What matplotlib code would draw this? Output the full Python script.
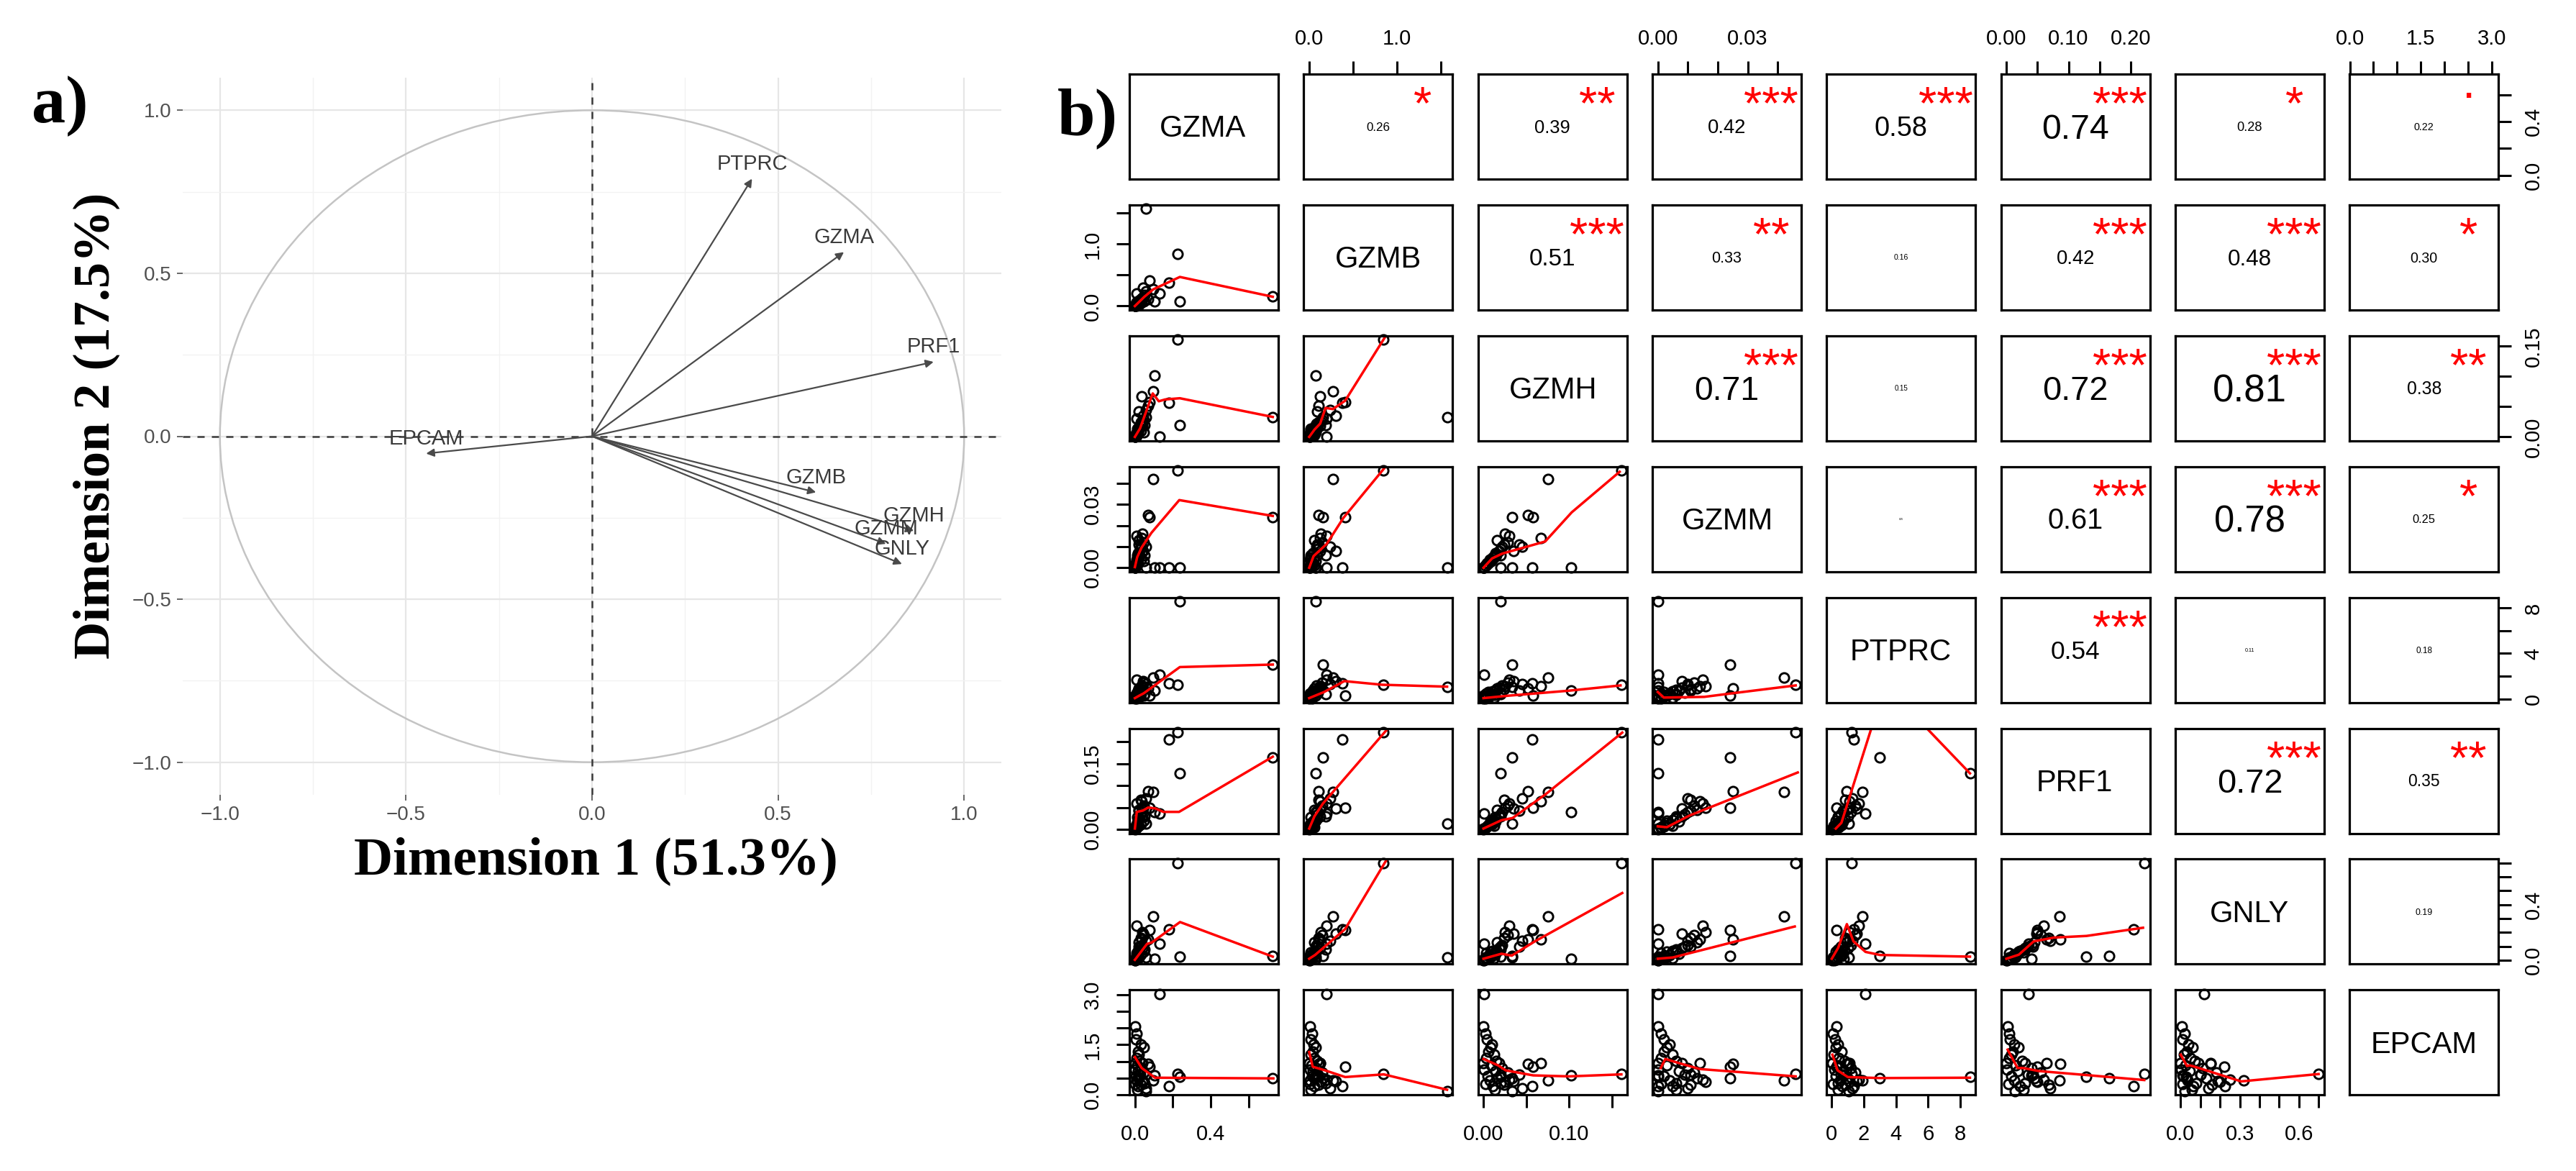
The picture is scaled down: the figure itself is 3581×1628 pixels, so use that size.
import numpy as np
import matplotlib
matplotlib.use("Agg")
import matplotlib.pyplot as plt
import matplotlib.patches as mpatches
import matplotlib.transforms as mtransforms
from matplotlib.textpath import TextPath
from matplotlib.font_manager import FontProperties

plt.rcParams['font.family'] = ['Liberation Sans', 'DejaVu Sans']

W, H = 3581, 1628

# %% data, panel a (variable coordinates on the first two dimensions)
pca_genes = ["PTPRC", "GZMA", "PRF1", "EPCAM", "GZMB", "GZMH", "GZMM", "GNLY"]
pca_dim1 = [0.43, 0.677, 0.918, -0.446, 0.602, 0.865, 0.79, 0.833]
pca_dim2 = [0.79, 0.565, 0.228, -0.053, -0.172, -0.29, -0.33, -0.392]
pca_ticks = [-1.0, -0.5, 0.0, 0.5, 1.0]

# %% data, panel b (expression per sample)
genes = ["GZMA", "GZMB", "GZMH", "GZMM", "PTPRC", "PRF1", "GNLY", "EPCAM"]
gzma = [0.727, 0.060, 0.225, 0.180, 0.237, 0.130, 0.070, 0.078, 0.102, 0.096, 0.034, 0.020, 0.050,
        0.000, 0.010, 0.005, 0.030, 0.048, 0.015, 0.020, 0.008, 0.025, 0.040, 0.012, 0.035, 0.003, 0.018,
        0.045, 0.028, 0.006, 0.022, 0.010, 0.010, 0.038, 0.002, 0.032, 0.016, 0.060, 0.012, 0.042, 0.000]
gzmb = [0.16, 1.57, 0.84, 0.38, 0.07, 0.20, 0.11, 0.41, 0.07, 0.27, 0.12, 0.09, 0.185,
        0.010, 0.030, 0.020, 0.050, 0.070, 0.040, 0.015, 0.060, 0.090, 0.120, 0.025, 0.080, 0.005, 0.045,
        0.150, 0.100, 0.035, 0.060, 0.200, 0.010, 0.130, 0.008, 0.110, 0.055, 0.240, 0.020, 0.300, 0.000]
gzmh = [0.033, 0.033, 0.161, 0.057, 0.020, 0.001, 0.052, 0.058, 0.102, 0.075, 0.067, 0.042, 0.020,
        0.000, 0.002, 0.004, 0.010, 0.008, 0.006, 0.012, 0.003, 0.015, 0.018, 0.009, 0.022, 0.001, 0.014,
        0.028, 0.020, 0.005, 0.016, 0.030, 0.007, 0.025, 0.002, 0.024, 0.011, 0.045, 0.013, 0.035, 0.000]
gzmm = [0.024, 0.000, 0.046, 0.000, 0.000, 0.000, 0.025, 0.024, 0.000, 0.042, 0.014, 0.011, 0.006,
        0.000, 0.001, 0.002, 0.004, 0.003, 0.002, 0.005, 0.001, 0.006, 0.008, 0.003, 0.010, 0.000, 0.007,
        0.012, 0.009, 0.002, 0.013, 0.015, 0.004, 0.016, 0.001, 0.011, 0.005, 0.010, 0.006, 0.008, 0.000]
ptprc = [3.00, 1.07, 1.24, 1.35, 8.60, 2.10, 0.90, 0.30, 0.75, 1.90, 1.10, 0.70, 0.40,
         0.30, 0.05, 0.20, 0.40, 0.26, 0.60, 0.10, 0.45, 0.80, 1.00, 0.35, 1.20, 0.15, 0.70,
         1.45, 0.55, 0.25, 0.90, 1.67, 0.50, 1.10, 0.08, 0.85, 0.65, 1.30, 0.38, 1.55, 0.02]
prf1 = [0.165, 0.014, 0.222, 0.205, 0.128, 0.036, 0.087, 0.050, 0.040, 0.085, 0.065, 0.043, 0.030,
        0.002, 0.004, 0.006, 0.012, 0.020, 0.010, 0.008, 0.005, 0.025, 0.030, 0.015, 0.040, 0.001, 0.018,
        0.055, 0.035, 0.008, 0.045, 0.060, 0.012, 0.050, 0.003, 0.068, 0.022, 0.070, 0.028, 0.048, 0.000]
gnly = [0.030, 0.020, 0.700, 0.225, 0.026, 0.120, 0.150, 0.220, 0.010, 0.318, 0.150, 0.100, 0.080,
        0.005, 0.020, 0.010, 0.040, 0.060, 0.030, 0.015, 0.050, 0.070, 0.090, 0.025, 0.110, 0.002, 0.045,
        0.180, 0.100, 0.012, 0.130, 0.250, 0.035, 0.200, 0.008, 0.160, 0.065, 0.140, 0.055, 0.190, 0.000]
epcam = [0.50, 0.11, 0.62, 0.26, 0.53, 3.02, 0.92, 0.83, 0.58, 0.44, 0.95, 0.60, 0.35,
         2.05, 1.83, 1.65, 1.50, 1.43, 1.30, 1.20, 1.10, 1.02, 0.95, 0.88, 0.80, 0.75, 0.70,
         0.66, 0.60, 0.55, 0.50, 0.45, 0.42, 0.38, 0.33, 0.30, 0.25, 0.20, 0.15, 0.40, 0.95]

# correlations shown in the upper panels (row by row) and their stars
cor_vals = [0.26, 0.39, 0.42, 0.58, 0.74, 0.28, 0.22,
            0.51, 0.33, 0.16, 0.42, 0.48, 0.30,
            0.71, 0.15, 0.72, 0.81, 0.38,
            0.05, 0.61, 0.78, 0.25,
            0.54, 0.11, 0.18,
            0.72, 0.35,
            0.19]
cor_stars = ["*", "**", "***", "***", "***", "*", ".",
             "***", "**", "", "***", "***", "*",
             "***", "", "***", "***", "**",
             "", "***", "***", "*",
             "***", "", "",
             "***", "**",
             ""]

# smoother: sm_<row>_<col>, x = column gene, y = row gene
sm_2_1 = [(0, 0), (0.05, 0.15), (0.097, 0.27), (0.237, 0.47), (0.727, 0.15)]
sm_3_1 = [(0, 0), (0.027, 0.014), (0.094, 0.072), (0.126, 0.059), (0.16, 0.062), (0.237, 0.064), (0.727, 0.033)]
sm_3_2 = [(0, 0), (0.06, 0.012), (0.125, 0.022), (0.186, 0.048), (0.27, 0.046), (0.41, 0.06), (0.884, 0.17), (1.57, 0.33)]
sm_4_1 = [(0, 0.0003), (0.012, 0.005), (0.035, 0.0095), (0.087, 0.0165), (0.234, 0.032), (0.727, 0.0245)]
sm_4_2 = [(0, 0), (0.05, 0.0055), (0.2, 0.0113), (0.39, 0.0236), (0.885, 0.0486), (1.57, 0.083)]
sm_4_3 = [(0, 0), (0.010, 0.0044), (0.022, 0.0067), (0.072, 0.0124), (0.103, 0.0262), (0.159, 0.0454)]
sm_5_1 = [(0, 0.06), (0.02, 0.25), (0.047, 0.49), (0.237, 2.8), (0.727, 3.02)]
sm_5_2 = [(0, 0.06), (0.17, 0.6), (0.40, 1.56), (0.83, 1.24), (1.57, 1.07)]
sm_5_3 = [(0, 0.06), (0.03, 0.28), (0.099, 0.71), (0.16, 1.18)]
sm_5_4 = [(0, 0.6), (0.002, 0.11), (0.0155, 0.17), (0.025, 0.49), (0.046, 1.18)]
sm_6_1 = [(0, 0.002), (0.01, 0.04), (0.042, 0.043), (0.07, 0.05), (0.107, 0.048), (0.15, 0.04), (0.233, 0.04), (0.727, 0.166)]
sm_6_2 = [(0, 0.002), (0.06, 0.03), (0.156, 0.059), (0.89, 0.229), (1.57, 0.386)]
sm_6_3 = [(0, 0.002), (0.021, 0.021), (0.034, 0.026), (0.073, 0.081), (0.162, 0.221)]
sm_6_4 = [(0.0, 0.007), (0.003, 0.005), (0.0107, 0.032), (0.0467, 0.13)]
sm_6_5 = [(0.25, 0.002), (0.6, 0.015), (3.32, 0.33), (8.6, 0.128)]
sm_7_1 = [(0, 0.003), (0.064, 0.118), (0.088, 0.127), (0.238, 0.275), (0.727, 0.026)]
sm_7_2 = [(0, 0.011), (0.067, 0.038), (0.41, 0.225), (0.906, 0.75), (1.57, 1.45)]
sm_7_3 = [(0, 0.011), (0.021, 0.047), (0.033, 0.033), (0.06, 0.136), (0.162, 0.484)]
sm_7_4 = [(0, 0.011), (0.005, 0.02), (0.0457, 0.243)]
sm_7_5 = [(0, 0.011), (0.4, 0.09), (0.94, 0.26), (1.35, 0.136), (2.1, 0.06), (3.0, 0.038), (8.6, 0.026)]
sm_7_6 = [(0, 0.011), (0.02, 0.04), (0.044, 0.136), (0.055, 0.145), (0.076, 0.163), (0.129, 0.175), (0.22, 0.234)]
sm_8_1 = [(0, 1.13), (0.036, 0.80), (0.106, 0.51), (0.73, 0.49)]
sm_8_2 = [(0, 1.28), (0.04, 0.84), (0.18, 0.73), (0.41, 0.53), (0.85, 0.61), (1.57, 0.15)]
sm_8_3 = [(0, 1.07), (0.017, 0.88), (0.026, 0.73), (0.058, 0.58), (0.1, 0.55), (0.161, 0.61)]
sm_8_4 = [(0.001, 0.80), (0.0025, 1.07), (0.007, 0.95), (0.014, 0.77), (0.046, 0.55)]
sm_8_5 = [(0.04, 1.2), (0.36, 0.73), (1.0, 0.53), (3.0, 0.5), (8.6, 0.51)]
sm_8_6 = [(0.002, 1.35), (0.018, 0.80), (0.027, 0.80), (0.052, 0.71), (0.135, 0.58), (0.222, 0.44)]
sm_8_7 = [(0, 1.2), (0.032, 0.86), (0.045, 0.88), (0.065, 0.85), (0.307, 0.40), (0.70, 0.62)]

# axis ticks per gene, and the labels R kept on each side
ticks = [[0, 0.2, 0.4, 0.6], [0, 0.5, 1.0, 1.5], [0, 0.05, 0.10, 0.15], [0, 0.01, 0.02, 0.03, 0.04],
         [0, 2, 4, 6, 8], [0, 0.05, 0.10, 0.15, 0.20], [0, 0.1, 0.2, 0.3, 0.4, 0.5, 0.6, 0.7],
         [0, 0.5, 1.0, 1.5, 2.0, 2.5, 3.0]]
labels_x = [["0.0", "", "0.4", ""], ["0.0", "", "1.0", ""], ["0.00", "", "0.10", ""],
            ["0.00", "", "", "0.03", ""], ["0", "2", "4", "6", "8"], ["0.00", "", "0.10", "", "0.20"],
            ["0.0", "", "", "0.3", "", "", "0.6", ""], ["0.0", "", "", "1.5", "", "", "3.0"]]
labels_y = [["0.0", "", "0.4", ""], ["0.0", "", "1.0", ""], ["0.00", "", "", "0.15"],
            ["0.00", "", "", "0.03", ""], ["0", "", "4", "", "8"], ["0.00", "", "", "0.15", ""],
            ["0.0", "", "", "", "0.4", "", "", ""], ["0.0", "", "", "1.5", "", "", "3.0"]]

# %%

fig = plt.figure(figsize=(W / 100, H / 100), dpi=100)
fig.patch.set_facecolor("white")


def px_axes(x0, y0, x1, y1):
    return fig.add_axes([x0 / W, 1 - y1 / H, (x1 - x0) / W, (y1 - y0) / H])


def ink_text(ax, x, y, s, size, color="black"):
    # centre the inked part of the string on (x, y), like R's text()
    fp = FontProperties(family="Liberation Sans", size=size)
    ext = TextPath((0, 0), s, prop=fp).get_extents()
    cx, cy = (ext.x0 + ext.x1) / 2, (ext.y0 + ext.y1) / 2
    tr = mtransforms.offset_copy(ax.transAxes, fig=fig, x=-cx, y=-cy, units="points")
    ax.text(x, y, s, transform=tr, fontproperties=fp, color=color, ha="left", va="baseline")


# %% panel a

axa = px_axes(254, 108, 1392, 1105)
axa.set_xlim(-1.1, 1.1)
axa.set_ylim(-1.1, 1.1)
for s in axa.spines.values():
    s.set_visible(False)
axa.set_xticks(pca_ticks)
axa.set_yticks(pca_ticks)
axa.set_xticks([-0.75, -0.25, 0.25, 0.75], minor=True)
axa.set_yticks([-0.75, -0.25, 0.25, 0.75], minor=True)
axa.grid(which="major", color="#e6e6e6", linewidth=1.6)
axa.grid(which="minor", color="#f2f2f2", linewidth=1.0)
axa.set_axisbelow(True)
axa.tick_params(which="major", length=6, width=1.3, color="#5a5a5a", labelcolor="#505050",
                labelsize=20, pad=5)
axa.tick_params(which="minor", length=0)
axa.add_patch(mpatches.Circle((0, 0), 1.0, fill=False, edgecolor="#c4c4c4", linewidth=1.8))
axa.axhline(0, color="#3a3a3a", linestyle=(0, (4, 4)), linewidth=1.8)
axa.axvline(0, color="#3a3a3a", linestyle=(0, (4, 4)), linewidth=1.8)
for g, x, y in zip(pca_genes, pca_dim1, pca_dim2):
    axa.annotate("", xy=(x, y), xytext=(0, 0),
                 arrowprops=dict(arrowstyle="-|>", color="#4a4a4a", lw=1.6, mutation_scale=16,
                                 shrinkA=0, shrinkB=0))
    axa.annotate(g, xy=(x, y), xytext=(0, 15), textcoords="offset points", ha="center", va="center",
                 fontsize=21, color="#3a3a3a")

fig.text(828 / W, 1 - 1197 / H, "Dimension 1 (51.3%)", ha="center", va="center",
         family=["Liberation Serif", "DejaVu Serif"], fontweight="bold", fontsize=54)
fig.text(134 / W, 1 - 592 / H, "Dimension 2 (17.5%)", ha="center", va="center", rotation=90,
         family=["Liberation Serif", "DejaVu Serif"], fontweight="bold", fontsize=52)
fig.text(83 / W, 1 - 148 / H, "a)", ha="center", va="center",
         family=["Liberation Serif", "DejaVu Serif"], fontweight="bold", fontsize=68)
fig.text(1512 / W, 1 - 165 / H, "b)", ha="center", va="center",
         family=["Liberation Serif", "DejaVu Serif"], fontweight="bold", fontsize=68)

# %% panel b

data = [gzma, gzmb, gzmh, gzmm, ptprc, prf1, gnly, epcam]
smooth = {(2, 1): sm_2_1, (3, 1): sm_3_1, (3, 2): sm_3_2, (4, 1): sm_4_1, (4, 2): sm_4_2, (4, 3): sm_4_3,
          (5, 1): sm_5_1, (5, 2): sm_5_2, (5, 3): sm_5_3, (5, 4): sm_5_4,
          (6, 1): sm_6_1, (6, 2): sm_6_2, (6, 3): sm_6_3, (6, 4): sm_6_4, (6, 5): sm_6_5,
          (7, 1): sm_7_1, (7, 2): sm_7_2, (7, 3): sm_7_3, (7, 4): sm_7_4, (7, 5): sm_7_5, (7, 6): sm_7_6,
          (8, 1): sm_8_1, (8, 2): sm_8_2, (8, 3): sm_8_3, (8, 4): sm_8_4, (8, 5): sm_8_5, (8, 6): sm_8_6,
          (8, 7): sm_8_7}

lims = []
for v in data:
    lo, hi = min(v), max(v)
    lims.append((lo - 0.04 * (hi - lo), hi + 0.04 * (hi - lo)))

pw, ph = 207, 146
k = 0
for r in range(8):
    for c in range(8):
        x0 = 1570 + 242.3 * c
        y0 = 103 + 181.9 * r
        ax = px_axes(x0, y0, x0 + pw, y0 + ph)
        ax.set_xlim(lims[c])
        ax.set_ylim(lims[r])
        for s in ax.spines.values():
            s.set_linewidth(2.3)
        ax.set_xticks([])
        ax.set_yticks([])
        ax.tick_params(length=13, width=2.2, labelsize=21)

        if r == 0 and c % 2 == 1:
            ax.set_xticks(ticks[c])
            ax.set_xticklabels(labels_x[c])
            ax.tick_params(axis="x", top=True, bottom=False, labeltop=True, labelbottom=False, pad=12)
        if r == 7 and c % 2 == 0:
            ax.set_xticks(ticks[c])
            ax.set_xticklabels(labels_x[c])
            ax.tick_params(axis="x", pad=16)
        if c == 0 and r % 2 == 1:
            ax.set_yticks(ticks[r])
            ax.set_yticklabels(labels_y[r], rotation=90, va="center")
            ax.tick_params(axis="y", pad=14)
        if c == 7 and r % 2 == 0:
            ax.set_yticks(ticks[r])
            ax.set_yticklabels(labels_y[r], rotation=90, va="center")
            ax.tick_params(axis="y", left=False, right=True, labelleft=False, labelright=True, pad=12)

        if r == c:
            ink_text(ax, 0.5, 0.5, genes[r], 30)
        elif r > c:
            ax.plot(data[c], data[r], "o", markersize=9.5, markerfacecolor="none",
                    markeredgecolor="black", markeredgewidth=2.1, clip_on=False)
            sx, sy = zip(*smooth[(r + 1, c + 1)])
            ax.plot(sx, sy, color="#ff0000", linewidth=2.5)
        else:
            rv = cor_vals[k]
            ink_text(ax, 0.5, 0.5, "%.2f" % rv, 47 * rv)
            if cor_stars[k]:
                ink_text(ax, 0.8, 0.8, cor_stars[k], 47, color="#ff0000")
            k += 1

fig.savefig("out.png", dpi=100, facecolor="white")
